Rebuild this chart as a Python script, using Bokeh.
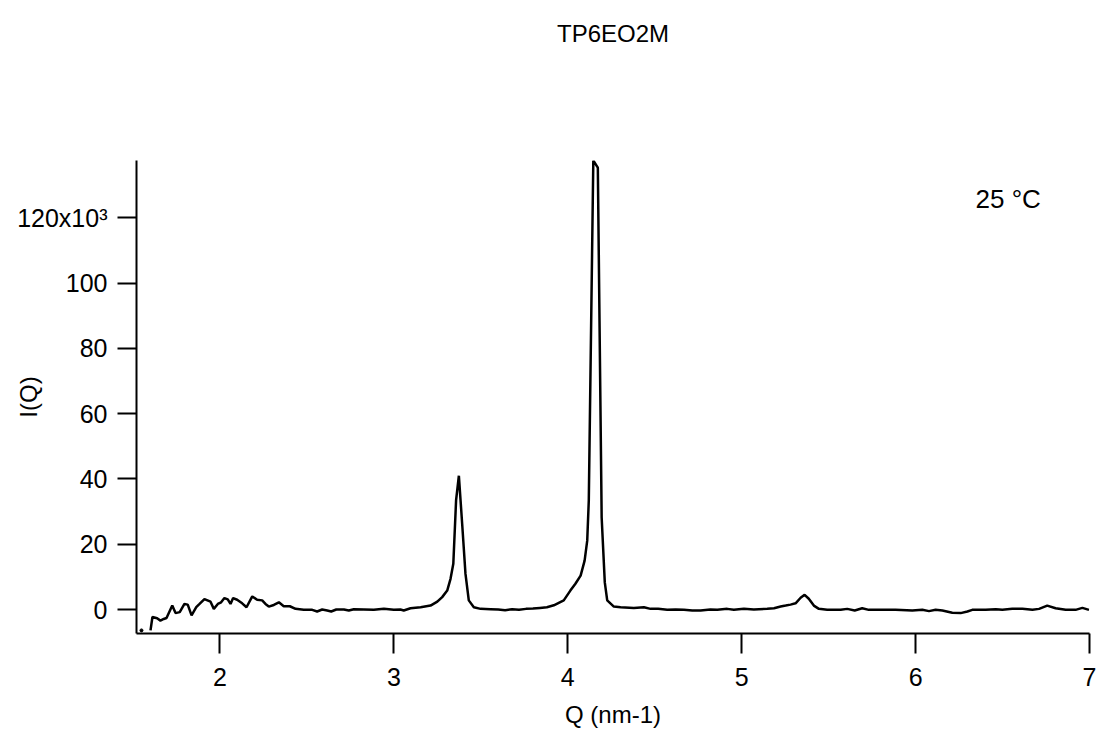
from bokeh.plotting import figure
from bokeh.models import Range1d, FixedTicker, Label, Title
from bokeh.embed import file_html
from bokeh.resources import INLINE

# ---- data (I in units of 10^3) ----
q_vals = [
    1.601, 1.612, 1.639, 1.658, 1.677, 1.693, 1.726, 1.745, 1.769, 1.796,
    1.815, 1.837, 1.864, 1.883, 1.911, 1.946, 1.965, 1.988, 2.007, 2.026,
    2.045, 2.061, 2.076, 2.099, 2.128, 2.153, 2.186, 2.214, 2.243, 2.262,
    2.281, 2.310, 2.339, 2.367, 2.402, 2.435, 2.482, 2.531, 2.559, 2.588,
    2.617, 2.640, 2.669, 2.713, 2.741, 2.770, 2.828, 2.885, 2.943, 3.000,
    3.038, 3.057, 3.096, 3.154, 3.211, 3.250, 3.278, 3.307, 3.326, 3.342,
    3.358, 3.374, 3.393, 3.412, 3.431, 3.460, 3.499, 3.556, 3.600, 3.640,
    3.680, 3.720, 3.760, 3.800, 3.840, 3.880, 3.920, 3.977, 4.015, 4.044,
    4.074, 4.097, 4.112, 4.121, 4.147, 4.173, 4.195, 4.213, 4.227, 4.265,
    4.304, 4.380, 4.438, 4.476, 4.520, 4.572, 4.620, 4.668, 4.716, 4.764,
    4.820, 4.860, 4.917, 4.955, 5.013, 5.070, 5.147, 5.186, 5.224, 5.253,
    5.281, 5.310, 5.339, 5.362, 5.386, 5.415, 5.444, 5.492, 5.569, 5.607,
    5.650, 5.693, 5.731, 5.789, 5.885, 5.981, 6.039, 6.077, 6.115, 6.154,
    6.211, 6.259, 6.298, 6.326, 6.403, 6.461, 6.499, 6.556, 6.614, 6.672,
    6.710, 6.757, 6.805, 6.863, 6.920, 6.959, 6.997,
]
i_vals = [
    -6.4, -2.3, -2.7, -3.4, -2.9, -2.6, 1.2, -1.1, -0.8, 1.7,
    1.5, -1.8, 0.7, 1.7, 3.2, 2.4, 0.2, 1.7, 2.2, 3.5,
    3.1, 1.7, 3.5, 3.0, 1.9, 0.7, 4.0, 3.0, 2.8, 1.7,
    0.9, 1.4, 2.2, 1.0, 1.0, 0.2, -0.1, -0.1, -0.6, 0.0,
    -0.3, -0.6, 0.0, 0.0, -0.3, 0.1, 0.0, -0.1, 0.2, -0.1,
    0.0, -0.3, 0.4, 0.7, 1.2, 2.4, 3.8, 5.8, 9.4, 14.0,
    33.5, 41.0, 26.2, 10.9, 2.8, 0.7, 0.2, 0.1, 0.0, -0.2,
    0.1, -0.1, 0.2, 0.3, 0.5, 0.7, 1.3, 2.8, 5.8, 7.9,
    10.4, 15.0, 21.1, 33.4, 137.6, 135.4, 28.2, 8.3, 2.8, 0.9,
    0.7, 0.5, 0.7, 0.2, 0.2, -0.1, 0.0, -0.1, -0.3, -0.3,
    0.0, -0.1, 0.2, -0.1, 0.2, 0.0, 0.2, 0.4, 0.9, 1.2,
    1.5, 1.9, 3.6, 4.5, 3.3, 1.2, 0.2, -0.1, -0.1, 0.2,
    -0.3, 0.4, -0.1, -0.1, -0.1, -0.3, -0.1, -0.5, -0.1, -0.3,
    -1.0, -1.1, -0.6, -0.1, -0.1, 0.1, -0.1, 0.2, 0.2, -0.1,
    0.2, 1.2, 0.4, -0.1, -0.1, 0.5, -0.1,
]
assert len(q_vals) == len(i_vals)

q_dot = [1.549]
i_dot = [-6.4]

x_ticks = [2, 3, 4, 5, 6, 7]
y_ticks = [0, 20, 40, 60, 80, 100, 120]
y_tick_labels = ["0", "20", "40", "60", "80", "100", "120x10\u00b3"]

title_text = "TP6EO2M"
x_label = "Q (nm-1)"
y_label = "I(Q)"
annotation_text = "25 \u00b0C"

FONT = "Liberation Sans"
X0, X1 = 1.5204, 7.0
Y0, Y1 = -7.35, 137.6

p = figure(width=1098, height=736, output_backend="svg", toolbar_location=None,
           x_range=Range1d(X0, X1), y_range=Range1d(Y0, Y1),
           min_border_left=136, min_border_right=9, min_border_top=160,
           min_border_bottom=103)

# spacer (nearest the frame) then the real title above it
p.add_layout(Title(text=" ", text_font_size="1px", standoff=111), "above")
p.add_layout(Title(text=title_text, align="center", text_font=FONT,
                   text_font_size="24px", text_font_style="normal",
                   text_color="black", standoff=0), "above")

p.outline_line_color = None
p.background_fill_color = "white"
p.border_fill_color = "white"
p.xgrid.visible = False
p.ygrid.visible = False

for ax in (p.xaxis[0], p.yaxis[0]):
    ax.axis_line_width = 2
    ax.axis_line_color = "black"
    ax.major_tick_line_width = 2
    ax.major_tick_line_color = "black"
    ax.major_tick_in = 0
    ax.minor_tick_in = 0
    ax.minor_tick_out = 0
    ax.major_label_text_font = FONT
    ax.major_label_text_font_size = "25px"
    ax.major_label_text_color = "black"
    ax.axis_label_text_font = FONT
    ax.axis_label_text_font_size = "24px"
    ax.axis_label_text_font_style = "normal"
    ax.axis_label_text_color = "black"

p.xaxis.ticker = FixedTicker(ticks=x_ticks)
p.xaxis.major_tick_out = 20
p.xaxis.major_label_standoff = 14
p.xaxis.axis_label = x_label
p.xaxis.axis_label_standoff = 12

p.yaxis.ticker = FixedTicker(ticks=y_ticks)
p.yaxis.major_label_overrides = {t: s for t, s in zip(y_ticks, y_tick_labels)}
p.yaxis.major_tick_out = 19
p.yaxis.major_label_standoff = 10
p.yaxis.axis_label = y_label
p.yaxis.axis_label_standoff = -28

p.line(q_vals, i_vals, line_color="black", line_width=2.5)
p.scatter(q_dot, i_dot, size=3, color="black")

p.add_layout(Label(x=6.345, y=125.8, text=annotation_text, text_align="left",
                   text_baseline="middle", text_font=FONT, text_font_size="26px",
                   text_color="black"))

open("out.html", "w").write(file_html(p, INLINE))
